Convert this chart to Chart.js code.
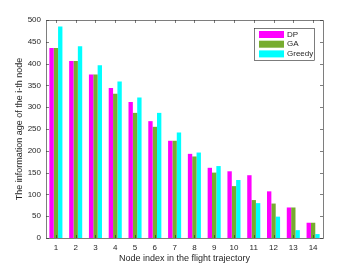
<!DOCTYPE html>
<html>
<head>
<meta charset="utf-8">
<script src="https://cdn.jsdelivr.net/npm/chart.js@4"></script>
<style>
  html, body { margin: 0; padding: 0; background: #fff; }
  #wrap { width: 357px; height: 268px; }
</style>
</head>
<body>
<div id="wrap"><canvas id="chart" width="357" height="268"></canvas></div>
<script>
const nodes = ['1', '2', '3', '4', '5', '6', '7', '8', '9', '10', '11', '12', '13', '14'];
const dpAge = [436, 406, 375, 344, 312, 268, 223, 193, 161, 153, 144, 107, 70, 35];
const gaAge = [436, 406, 375, 331, 287, 255, 223, 187, 150, 119, 87, 79, 70, 35];
const greedyAge = [485, 440, 396, 359, 322, 287, 242, 196, 165, 133, 80, 49, 18, 9];
const yTicks = [0, 50, 100, 150, 200, 250, 300, 350, 400, 450, 500];

const colors = {
    dp: '#ff00ff',
    ga: '#77ac30',
    greedy: '#00ffff',
    axis: '#262626'
};
const font = 'Liberation Sans, Arial, sans-serif';

// MATLAB-style box with inward ticks on all four sides
const boxTicks = {
    id: 'boxTicks',
    afterDraw(chart) {
        const { ctx, chartArea: a, scales } = chart;
        const len = 3;
        ctx.save();
        ctx.strokeStyle = colors.axis;
        ctx.lineWidth = 0.6;
        ctx.beginPath();
        ctx.rect(a.left + 0.5, a.top + 0.5, a.right - a.left, a.bottom - a.top);
        yTicks.forEach(v => {
            const y = Math.round(scales.y.getPixelForValue(v)) + 0.5;
            ctx.moveTo(a.left, y); ctx.lineTo(a.left + len, y);
            ctx.moveTo(a.right, y); ctx.lineTo(a.right - len, y);
        });
        nodes.forEach((_, i) => {
            const x = Math.round(scales.x.getPixelForValue(i)) + 0.5;
            ctx.moveTo(x, a.bottom); ctx.lineTo(x, a.bottom - len);
            ctx.moveTo(x, a.top); ctx.lineTo(x, a.top + len);
        });
        ctx.stroke();
        ctx.restore();
    }
};

// legend box in the upper right of the plot
const boxLegend = {
    id: 'boxLegend',
    afterDraw(chart) {
        const { ctx } = chart;
        const x0 = 254, y0 = 28, w = 60, h = 32;
        ctx.save();
        ctx.fillStyle = '#fff';
        ctx.fillRect(x0, y0, w, h);
        ctx.strokeStyle = colors.axis;
        ctx.lineWidth = 0.6;
        ctx.strokeRect(x0 + 0.5, y0 + 0.5, w, h);
        ctx.font = '8px ' + font;
        ctx.textBaseline = 'middle';
        chart.data.datasets.forEach((ds, i) => {
            const cy = y0 + 6.5 + i * 9.7;
            ctx.fillStyle = ds.backgroundColor;
            ctx.fillRect(x0 + 5, cy - 3.5, 25, 7);
            ctx.fillStyle = colors.axis;
            ctx.fillText(ds.label, x0 + 33, cy);
        });
        ctx.restore();
    }
};

new Chart(document.getElementById('chart'), {
    type: 'bar',
    data: {
        labels: nodes,
        datasets: [
            { label: 'DP', data: dpAge, backgroundColor: colors.dp },
            { label: 'GA', data: gaAge, backgroundColor: colors.ga },
            { label: 'Greedy', data: greedyAge, backgroundColor: colors.greedy }
        ]
    },
    options: {
        responsive: false,
        animation: false,
        layout: { padding: { top: 20, right: 34, left: 14, bottom: 0 } },
        datasets: {
            bar: { categoryPercentage: 0.66, barPercentage: 1.0, borderWidth: 0 }
        },
        plugins: {
            legend: { display: false },
            tooltip: { enabled: false }
        },
        scales: {
            x: {
                grid: { display: false, drawTicks: false },
                border: { display: false },
                ticks: { color: colors.axis, font: { family: font, size: 8 }, padding: 5, maxRotation: 0 },
                title: {
                    display: true,
                    text: 'Node index in the flight trajectory',
                    color: colors.axis,
                    font: { family: font, size: 9 },
                    padding: { top: 0, bottom: 4 }
                },
                afterFit(scale) { scale.height = 30; }
            },
            y: {
                min: 0,
                max: 500,
                afterBuildTicks(scale) { scale.ticks = yTicks.map(v => ({ value: v })); },
                grid: { display: false, drawTicks: false },
                border: { display: false },
                ticks: { color: colors.axis, font: { family: font, size: 8 }, padding: 5 },
                title: {
                    display: true,
                    text: 'The information age of the i-th node',
                    color: colors.axis,
                    font: { family: font, size: 9 },
                    padding: { top: 0, bottom: 2 }
                },
                afterFit(scale) { scale.width = 32; }
            }
        }
    },
    plugins: [boxTicks, boxLegend]
});
</script>
</body>
</html>
